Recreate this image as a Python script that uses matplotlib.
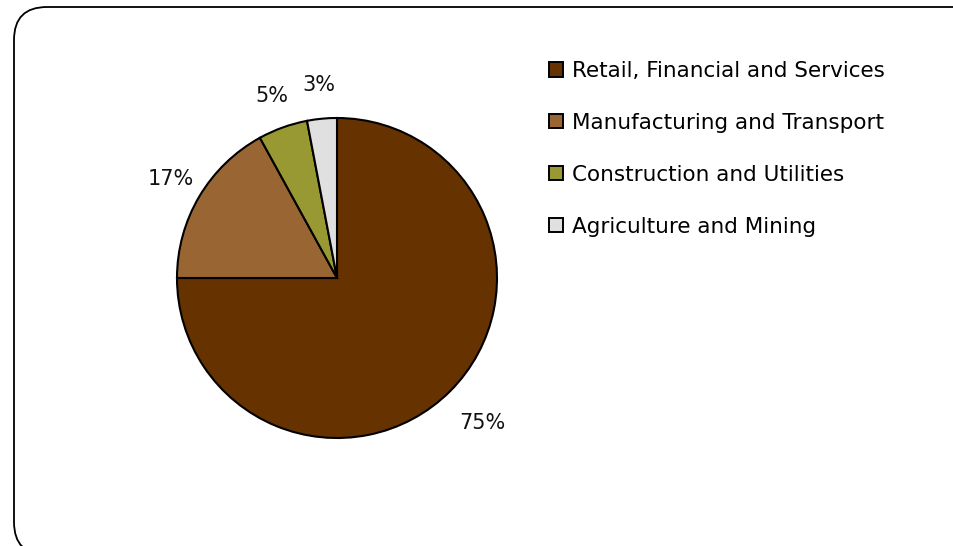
import matplotlib.pyplot as plt
from matplotlib.patches import FancyBboxPatch

# Employment share by sector
sectors = ['Retail, Financial and Services', 'Manufacturing and Transport',
           'Construction and Utilities', 'Agriculture and Mining']
shares = [75, 17, 5, 3]
colors = ['#663300', '#996633', '#999933', '#E0E0E0']

plt.rcParams['font.family'] = ['DejaVu Sans']

W, H = 954, 546
fig = plt.figure(figsize=(W / 100, H / 100), dpi=100)

# rounded frame running off the right and bottom edges (pixel units)
frame = FancyBboxPatch((14, -9), 1000, 548,
                       boxstyle='round,pad=0,rounding_size=33',
                       transform=None, fill=False,
                       edgecolor='black', linewidth=1.3)
fig.patches.append(frame)

cx, cy, r = 337, 278, 160
ax = fig.add_axes([(cx - r) / W, (H - cy - r) / H, 2 * r / W, 2 * r / H])
wedges, texts, autotexts = ax.pie(
    shares, colors=colors, startangle=90, counterclock=False,
    autopct='%.0f%%', pctdistance=1.21,
    wedgeprops=dict(edgecolor='black', linewidth=1.5),
    textprops=dict(fontsize=15, color='#111111'))
# push the big slice's label a little further out
x, y = autotexts[0].get_position()
autotexts[0].set_position((x * 1.06, y * 1.06))
ax.set_xlim(-1, 1)
ax.set_ylim(-1, 1)
ax.set_aspect('equal')
ax.axis('off')

leg = fig.legend(wedges, sectors, loc='upper left', bbox_to_anchor=(549 / W, 1 - 61 / H),
                 frameon=False, fontsize=15.5, handlelength=0.65, handleheight=0.65,
                 handletextpad=0.4, labelspacing=1.48, borderpad=0, borderaxespad=0)
for h in leg.legend_handles:
    h.set_edgecolor('black')
    h.set_linewidth(1.4)

fig.savefig('out.png', dpi=100)
